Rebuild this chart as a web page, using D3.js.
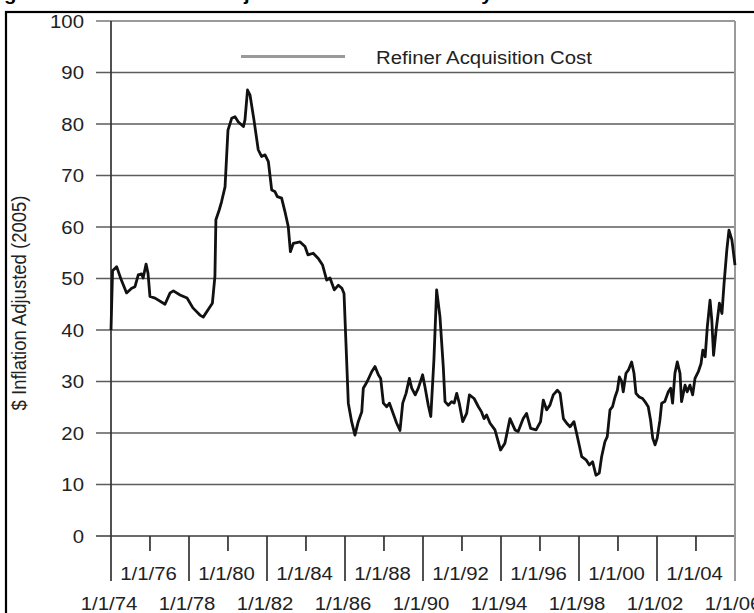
<!DOCTYPE html>
<html>
  <head>
    <meta charset="utf-8">
    <title>Refiner Acquisition Cost</title>
    <style>
      body { margin: 0; background: #fff; }
      text { font-family: "Liberation Sans", Arial, sans-serif; font-size: 18.5px; fill: #222; }
      .title { font-weight: bold; fill: #000; }
    </style>
  </head>
  <body>
    <script src="https://d3js.org/d3.v7.min.js"></script>
    <script>

      // readings: date as decimal year, cost in 2005 dollars
      var years = [
        1974.0, 1974.08, 1974.29, 1974.5, 1974.8, 1975.06, 1975.23, 1975.4, 1975.57, 1975.65,
        1975.8, 1975.9, 1976.0, 1976.26, 1976.77, 1977.03, 1977.2, 1977.54, 1977.9, 1978.2,
        1978.56, 1978.73, 1979.08, 1979.2, 1979.33, 1979.38, 1979.55, 1979.67, 1979.85, 1980.0,
        1980.19, 1980.36, 1980.53, 1980.79, 1980.87, 1981.0, 1981.13, 1981.33, 1981.55, 1981.72,
        1981.9, 1982.07, 1982.24, 1982.4, 1982.53, 1982.75, 1982.92, 1983.09, 1983.2, 1983.35,
        1983.7, 1983.95, 1984.1, 1984.37, 1984.63, 1984.85, 1985.06, 1985.23, 1985.45, 1985.66,
        1985.84, 1985.95, 1986.05, 1986.17, 1986.34, 1986.51, 1986.68, 1986.86, 1986.94, 1987.14,
        1987.37, 1987.54, 1987.71, 1987.83, 1987.97, 1988.14, 1988.28, 1988.4, 1988.65, 1988.82,
        1988.96, 1989.13, 1989.3, 1989.42, 1989.6, 1989.76, 1989.98, 1990.1, 1990.27, 1990.4,
        1990.56, 1990.7, 1990.87, 1991.04, 1991.13, 1991.3, 1991.47, 1991.6, 1991.73, 1991.86,
        1992.04, 1992.24, 1992.38, 1992.62, 1992.84, 1993.0, 1993.13, 1993.26, 1993.44, 1993.69,
        1993.86, 1993.98, 1994.2, 1994.46, 1994.72, 1994.88, 1995.14, 1995.31, 1995.52, 1995.8,
        1996.03, 1996.17, 1996.34, 1996.51, 1996.68, 1996.89, 1997.03, 1997.2, 1997.37, 1997.54,
        1997.74, 1997.88, 1998.14, 1998.36, 1998.53, 1998.7, 1998.87, 1999.04, 1999.16, 1999.33,
        1999.45, 1999.59, 1999.72, 1999.85, 1999.97, 2000.07, 2000.19, 2000.27, 2000.41, 2000.53,
        2000.7, 2000.82, 2000.92, 2001.09, 2001.26, 2001.38, 2001.55, 2001.67, 2001.78, 2001.9,
        2002.01, 2002.15, 2002.24, 2002.4, 2002.58, 2002.7, 2002.8, 2002.92, 2003.04, 2003.18,
        2003.26, 2003.44, 2003.55, 2003.69, 2003.83, 2003.95, 2004.12, 2004.26, 2004.35, 2004.47,
        2004.58, 2004.72, 2004.81, 2004.9, 2005.03, 2005.2, 2005.33, 2005.44, 2005.58, 2005.69,
        2005.84, 2006.0
      ];
      var cost = [
        40.0, 51.5, 52.3, 50.0, 47.2, 48.1, 48.4, 50.7, 50.9, 50.1,
        52.8, 51.0, 46.5, 46.2, 45.0, 47.2, 47.6, 46.8, 46.2, 44.3,
        42.9, 42.5, 44.5, 45.2, 50.4, 61.4, 63.3, 64.9, 67.8, 78.8,
        81.1, 81.4, 80.4, 79.5, 80.8, 86.6, 85.6, 80.8, 75.0, 73.7,
        74.0, 72.7, 67.2, 66.9, 65.9, 65.6, 63.0, 60.1, 55.2, 56.8,
        57.1, 56.2, 54.6, 54.9, 53.9, 52.6, 49.7, 50.1, 47.8, 48.7,
        48.1, 47.1, 37.4, 25.8, 22.2, 19.6, 22.2, 24.1, 28.7, 30.0,
        31.9, 32.9, 31.3, 30.6, 25.8, 25.1, 25.8, 24.5, 21.9, 20.5,
        25.8, 27.7, 30.6, 28.7, 27.4, 28.7, 31.3, 29.0, 25.4, 23.2,
        34.2, 47.8, 42.6, 32.9, 26.1, 25.4, 26.1, 25.8, 27.7, 25.8,
        22.2, 23.8, 27.4, 26.7, 25.1, 24.1, 22.8, 23.5, 21.9, 20.6,
        18.3, 16.7, 18.0, 22.8, 20.6, 20.3, 22.8, 23.8, 20.9, 20.6,
        22.2, 26.4, 24.5, 25.4, 27.4, 28.3, 27.7, 22.8, 21.9, 21.2,
        22.2, 19.9, 15.4, 14.8, 13.8, 14.4, 11.8, 12.2, 15.4, 18.3,
        19.3, 24.5, 25.1, 27.0, 28.3, 30.9, 30.0, 28.0, 31.6, 32.2,
        33.8, 31.6, 27.7, 27.0, 26.7, 26.1, 25.1, 22.5, 19.0, 17.7,
        19.0, 22.5, 25.8, 26.1, 28.0, 28.7, 25.8, 31.6, 33.8, 31.6,
        26.1, 29.3, 28.0, 29.3, 27.4, 30.6, 31.9, 33.5, 36.1, 34.8,
        40.6, 45.8, 41.9, 35.1, 40.0, 45.2, 43.2, 49.1, 55.5, 59.4,
        57.5, 52.6
      ];

      var yTicks = [0, 10, 20, 30, 40, 50, 60, 70, 80, 90, 100];
      var longTickYears = [1974, 1978, 1982, 1986, 1990, 1994, 1998, 2002, 2006];
      var shortTickYears = [1976, 1980, 1984, 1988, 1992, 1996, 2000, 2004];

      var seriesName = "Refiner Acquisition Cost";
      var yTitle = "$ Inflation Adjusted (2005)";
      var chartTitle = "Figure 13. U.S. Inflation Adjusted Crude Oil Costs by Month";

      var width = 754, height = 613;
      var plot = {left: 111, right: 735, top: 21, bottom: 536};
      var sx = 1.1;   // the picture's lettering is a bit wide

      function toDate(y) {
        var yr = Math.floor(y);
        var a = new Date(yr, 0, 1), b = new Date(yr + 1, 0, 1);
        return new Date(+a + (y - yr) * (b - a));
      }

      var data = years.map(function(y, i) { return {date: toDate(y), value: cost[i]}; });

      var x = d3.scaleTime()
          .domain([new Date(1974, 0, 1), new Date(2006, 0, 1)])
          .range([plot.left, plot.right]);
      var y = d3.scaleLinear()
          .domain([0, 100])
          .range([plot.bottom, plot.top]);

      var fmt = d3.timeFormat("%-m/%-d/%y");

      var svg = d3.select("body").append("svg")
          .attr("width", width)
          .attr("height", height);

      svg.append("rect").attr("width", width).attr("height", height).attr("fill", "#fff");

      // stretched text helper
      function label(str, px, py, anchor, cls) {
        return svg.append("text")
          .attr("class", cls || null)
          .attr("transform", "translate(" + px + "," + py + ") scale(" + sx + ",1)")
          .attr("text-anchor", anchor)
          .text(str);
      }

      // title sits above the page in the picture, only its tails show
      label(chartTitle, -14, -0.5, "start", "title");

      // outer frame
      svg.append("rect")
          .attr("x", 6).attr("y", 12)
          .attr("width", 900).attr("height", 800)
          .attr("fill", "none").attr("stroke", "#000").attr("stroke-width", 2.2);

      // horizontal grid lines + y ticks
      svg.append("g").selectAll("line")
          .data(yTicks)
          .enter().append("line")
          .attr("x1", plot.left - 15)
          .attr("x2", plot.right)
          .attr("y1", function(d) { return y(d); })
          .attr("y2", function(d) { return y(d); })
          .attr("stroke", function(d) { return d == 100 ? "#9a9a9a" : d == 0 ? "#3a3a3a" : "#5c5c5c"; })
          .attr("stroke-width", function(d) { return d == 100 ? 2 : 1.7; });

      // right border of plot
      svg.append("line")
          .attr("x1", plot.right).attr("x2", plot.right)
          .attr("y1", y(100)).attr("y2", 581)
          .attr("stroke", "#9a9a9a").attr("stroke-width", 2);

      // y axis line
      svg.append("line")
          .attr("x1", plot.left).attr("x2", plot.left)
          .attr("y1", y(100)).attr("y2", 581)
          .attr("stroke", "#333").attr("stroke-width", 1.7);

      // y tick labels
      yTicks.forEach(function(d) {
        label(d, 84, y(d) + 6.5, "end");
      });

      // y axis title
      svg.append("text")
          .attr("transform", "translate(26," + 303 + ") scale(" + sx + ",1) rotate(-90)")
          .attr("text-anchor", "middle")
          .text(yTitle);

      // x axis ticks
      longTickYears.slice(1, -1).forEach(function(yr) {
        var px = x(new Date(yr, 0, 1));
        svg.append("line")
            .attr("x1", px).attr("x2", px)
            .attr("y1", plot.bottom).attr("y2", 581)
            .attr("stroke", "#333").attr("stroke-width", 1.7);
      });
      shortTickYears.forEach(function(yr) {
        var px = x(new Date(yr, 0, 1));
        svg.append("line")
            .attr("x1", px).attr("x2", px)
            .attr("y1", plot.bottom).attr("y2", 551)
            .attr("stroke", "#333").attr("stroke-width", 1.7);
      });

      // staggered date labels
      shortTickYears.forEach(function(yr) {
        var d = new Date(yr, 0, 1);
        label(fmt(d), x(d) - 1.5, 580, "middle");
      });
      longTickYears.forEach(function(yr) {
        var d = new Date(yr, 0, 1);
        label(fmt(d), x(d) - 2, 610, "middle");
      });

      // the series
      var line = d3.line()
          .x(function(d) { return x(d.date); })
          .y(function(d) { return y(d.value); });

      svg.append("path")
          .datum(data)
          .attr("d", line)
          .attr("fill", "none")
          .attr("stroke", "#111")
          .attr("stroke-width", 2.8)
          .attr("stroke-linejoin", "round");

      // legend
      svg.append("line")
          .attr("x1", 241).attr("x2", 345)
          .attr("y1", 56.5).attr("y2", 56.5)
          .attr("stroke", "#999").attr("stroke-width", 3);
      label(seriesName, 376, 64, "start");

    </script>
  </body>
</html>
